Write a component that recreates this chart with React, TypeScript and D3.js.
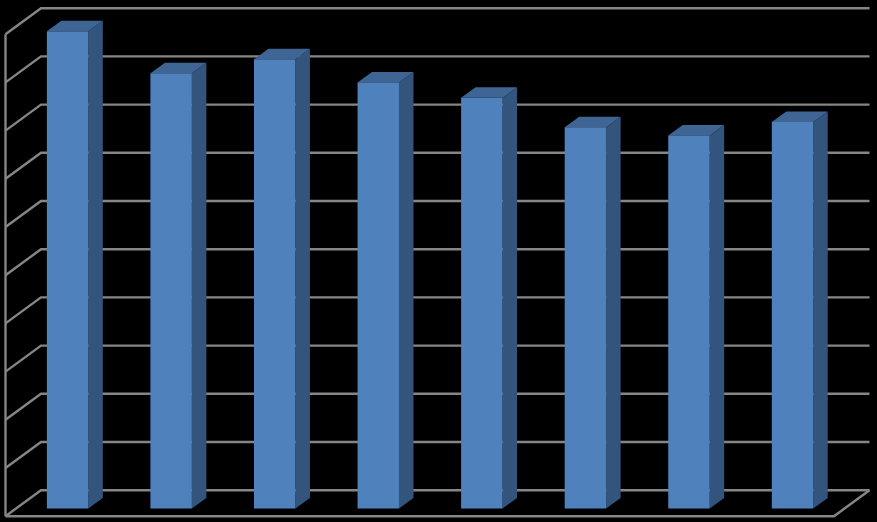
import React from "react";
import * as d3 from "d3";

const categories = ["1", "2", "3", "4", "5", "6", "7", "8"];
const values = [99.0, 90.3, 93.2, 88.4, 85.2, 79.1, 77.4, 80.2];
const gridTicks = [0, 10, 20, 30, 40, 50, 60, 70, 80, 90, 100];

const W = 877;
const H = 522;
const wallDx = 35.5;
const wallDy = -26;
const barDx = 14.5;
const barDy = -10.5;
const frontLeft = 5.5;
const frontRight = 834;
const frontBottom = 516.2;
const barBase = 508.5;
const barShift = 10.3;
const lineColor = "#868686";

const x = d3.scaleBand<string>().domain(categories).range([frontLeft, frontRight]).paddingInner(0.6).paddingOuter(0.3);
const y = d3.scaleLinear().domain([0, 100]).range([frontBottom, frontBottom - 482]);
const yBar = d3.scaleLinear().domain([0, 100]).range([barBase, barBase - 482]);
const poly = d3.line<[number, number]>();

export default function App() {
  const bw = x.bandwidth();
  const floor: [number, number][] = [
    [frontLeft, frontBottom],
    [frontRight, frontBottom],
    [frontRight + wallDx, frontBottom + wallDy],
    [frontLeft + wallDx, frontBottom + wallDy],
  ];
  return (
    <svg width={W} height={H} style={{ position: "absolute", left: 0, top: 0, background: "#000", display: "block" }}>
      <g fill="none" stroke={lineColor} strokeWidth={2.4}>
        <path d={`M${frontLeft},${y(100)}L${frontLeft},${frontBottom}`} />
        {gridTicks.map((t) => (
          <path
            key={t}
            d={poly([
              [frontLeft, y(t)],
              [frontLeft + wallDx, y(t) + wallDy],
              [frontRight + wallDx, y(t) + wallDy],
            ]) as string}
          />
        ))}
        <path d={poly(floor.slice(0, 3) as [number, number][]) as string} />
      </g>
      {categories.map((c, i) => {
        const l = (x(c) as number) + barShift;
        const r = l + bw;
        const top = yBar(values[i]);
        return (
          <g key={c}>
            <path
              fill="#32547d"
              d={(poly([
                [r, top],
                [r + barDx, top + barDy],
                [r + barDx, barBase + barDy],
                [r, barBase],
              ]) as string) + "Z"}
            />
            <path
              fill="#3e6594"
              d={(poly([
                [l, top],
                [l + barDx, top + barDy],
                [r + barDx, top + barDy],
                [r, top],
              ]) as string) + "Z"}
            />
            <rect x={l} y={top} width={bw} height={barBase - top} fill="#4f81bd" />
          </g>
        );
      })}
    </svg>
  );
}
